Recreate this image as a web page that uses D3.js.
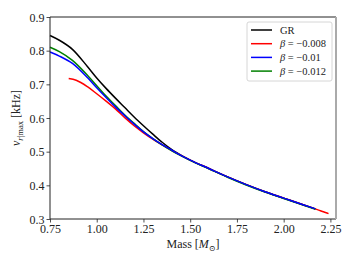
<!DOCTYPE html>
<html lang="en">
<head>
    <meta charset="UTF-8">
    <title>nu r max vs mass</title>
    <style>
        body { margin: 0; background: #fff; }
    </style>
</head>
<body>
    <div id="wrapper"></div>
    <script src="https://d3js.org/d3.v7.min.js"></script>
    <script>
        // mass samples (M_sun) and nu_r|max (kHz)
        const grMass = [0.75, 0.80, 0.87, 0.95, 1.00, 1.05, 1.10, 1.15, 1.20, 1.25, 1.30, 1.35, 1.40, 1.45, 1.50, 1.60, 1.70, 1.80, 1.90, 2.00, 2.10, 2.17];
        const grNu   = [0.845, 0.831, 0.804, 0.753, 0.719, 0.688, 0.659, 0.631, 0.603, 0.577, 0.552, 0.528, 0.507, 0.490, 0.475, 0.450, 0.425, 0.402, 0.381, 0.362, 0.343, 0.330];

        const b008Mass = [0.85, 0.89, 0.95, 1.00, 1.05, 1.10, 1.15, 1.20, 1.25, 1.30, 1.35, 1.40, 1.45, 1.50, 1.60, 1.70, 1.80, 1.90, 2.00, 2.10, 2.20, 2.24];
        const b008Nu   = [0.717, 0.712, 0.693, 0.672, 0.650, 0.627, 0.601, 0.577, 0.556, 0.537, 0.520, 0.504, 0.489, 0.475, 0.450, 0.425, 0.402, 0.381, 0.362, 0.343, 0.324, 0.316];

        const b010Mass = [0.75, 0.80, 0.87, 0.95, 1.00, 1.05, 1.10, 1.15, 1.20, 1.25, 1.30, 1.35, 1.40, 1.45, 1.50, 1.60, 1.70, 1.80, 1.90, 2.00, 2.10, 2.17];
        const b010Nu   = [0.796, 0.784, 0.762, 0.720, 0.690, 0.661, 0.633, 0.607, 0.582, 0.559, 0.539, 0.521, 0.505, 0.489, 0.475, 0.450, 0.425, 0.402, 0.381, 0.362, 0.343, 0.330];

        const b012Mass = [0.75, 0.80, 0.87, 0.95, 1.00, 1.05, 1.10, 1.15, 1.20, 1.25, 1.30, 1.35, 1.40, 1.45, 1.50, 1.60, 1.70, 1.80, 1.90, 2.00, 2.10, 2.17];
        const b012Nu   = [0.810, 0.797, 0.771, 0.727, 0.696, 0.665, 0.637, 0.609, 0.584, 0.560, 0.539, 0.520, 0.503, 0.488, 0.474, 0.449, 0.424, 0.401, 0.380, 0.361, 0.342, 0.329];

        const xTicks = [0.75, 1.00, 1.25, 1.50, 1.75, 2.00, 2.25];
        const yTicks = [0.3, 0.4, 0.5, 0.6, 0.7, 0.8, 0.9];

        const series = [
            { name: 'GR', mass: grMass, nu: grNu, color: '#000000' },
            { name: '\u03b2 = \u22120.008', mass: b008Mass, nu: b008Nu, color: '#ff0000' },
            { name: '\u03b2 = \u22120.01', mass: b010Mass, nu: b010Nu, color: '#0000ff' },
            { name: '\u03b2 = \u22120.012', mass: b012Mass, nu: b012Nu, color: '#008000' }
        ];
        // green under blue, like the picture
        const drawOrder = [0, 1, 3, 2];

        const serif = '"Liberation Serif", "Times New Roman", "DejaVu Serif", serif';

        let width = 352;
        let height = 264;
        let margin = { top: 17, right: 16, bottom: 45, left: 50 };

        let svg = d3.select('#wrapper').append('svg')
            .attr('width', width)
            .attr('height', height)
            .attr('font-family', serif);

        let x = d3.scaleLinear().domain([0.75, 2.28]).range([margin.left, width - margin.right]);
        let y = d3.scaleLinear().domain([0.3, 0.9]).range([height - margin.bottom, margin.top]);

        // curves
        let line = d3.line()
            .x(d => x(d[0]))
            .y(d => y(d[1]))
            .curve(d3.curveMonotoneX);

        drawOrder.forEach(i => {
            let s = series[i];
            svg.append('path')
                .datum(s.mass.map((m, j) => [m, s.nu[j]]))
                .attr('fill', 'none')
                .attr('stroke', s.color)
                .attr('stroke-width', 1.5)
                .attr('d', line);
        });

        // axes
        let xAxis = d3.axisBottom(x).tickValues(xTicks).tickFormat(d3.format('.2f')).tickSize(3.5).tickPadding(2);
        let yAxis = d3.axisLeft(y).tickValues(yTicks).tickFormat(d3.format('.1f')).tickSize(3.5).tickPadding(2);

        let gx = svg.append('g').attr('transform', `translate(0,${height - margin.bottom})`).call(xAxis);
        let gy = svg.append('g').attr('transform', `translate(${margin.left},0)`).call(yAxis);
        [gx, gy].forEach(g => {
            g.attr('font-family', serif).attr('font-size', 12);
            g.select('.domain').remove();
            g.selectAll('.tick line').attr('stroke', '#222').attr('stroke-width', 0.8);
            g.selectAll('.tick text').attr('fill', '#222');
        });
        gy.selectAll('.tick text').attr('dy', '0.34em');

        // frame
        let x0 = margin.left, x1 = width - margin.right, y0 = margin.top, y1 = height - margin.bottom;
        svg.append('line').attr('x1', x0).attr('x2', x1).attr('y1', y0).attr('y2', y0).attr('stroke', '#222').attr('stroke-width', 1);
        svg.append('line').attr('x1', x0).attr('x2', x1).attr('y1', y1).attr('y2', y1).attr('stroke', '#222').attr('stroke-width', 1);
        svg.append('line').attr('x1', x0).attr('x2', x0).attr('y1', y0).attr('y2', y1).attr('stroke', '#222').attr('stroke-width', 1);
        svg.append('line').attr('x1', x1).attr('x2', x1).attr('y1', y0).attr('y2', y1).attr('stroke', '#aaa').attr('stroke-width', 2);

        // x label
        let xl = svg.append('text')
            .attr('x', (x0 + x1) / 2)
            .attr('y', 248)
            .attr('text-anchor', 'middle')
            .attr('font-size', 12)
            .attr('fill', '#222');
        xl.append('tspan').text('Mass [');
        xl.append('tspan').attr('font-style', 'italic').text('M');
        xl.append('tspan').attr('font-size', 8).attr('dy', 2.5).text('\u2299');
        xl.append('tspan').attr('dy', -2.5).text(']');

        // y label
        let yl = svg.append('text')
            .attr('transform', `translate(20,${(y0 + y1) / 2}) rotate(-90)`)
            .attr('text-anchor', 'middle')
            .attr('font-size', 12)
            .attr('fill', '#222');
        yl.append('tspan').attr('font-style', 'italic').text('\u03bd');
        yl.append('tspan').attr('font-size', 8.5).attr('dy', 2.5).attr('font-style', 'italic').text('r');
        yl.append('tspan').attr('font-size', 8.5).text('|max');
        yl.append('tspan').attr('dy', -2.5).text(' [kHz]');

        // legend
        let lg = svg.append('g');
        lg.append('rect')
            .attr('x', 247).attr('y', 22)
            .attr('width', 85).attr('height', 59)
            .attr('rx', 2)
            .attr('fill', '#fff').attr('fill-opacity', 0.8)
            .attr('stroke', '#ccc').attr('stroke-width', 0.8);
        series.forEach((s, i) => {
            let ry = 30 + i * 13.7;
            lg.append('line')
                .attr('x1', 251).attr('x2', 272)
                .attr('y1', ry).attr('y2', ry)
                .attr('stroke', s.color).attr('stroke-width', 1.5);
            let t = lg.append('text')
                .attr('x', 280).attr('y', ry + 3.5)
                .attr('font-size', 10.5)
                .attr('fill', '#222');
            if (i === 0) {
                t.text(s.name);
            } else {
                t.append('tspan').attr('font-style', 'italic').text('\u03b2');
                t.append('tspan').text(s.name.slice(1));
            }
        });
    </script>
</body>
</html>
